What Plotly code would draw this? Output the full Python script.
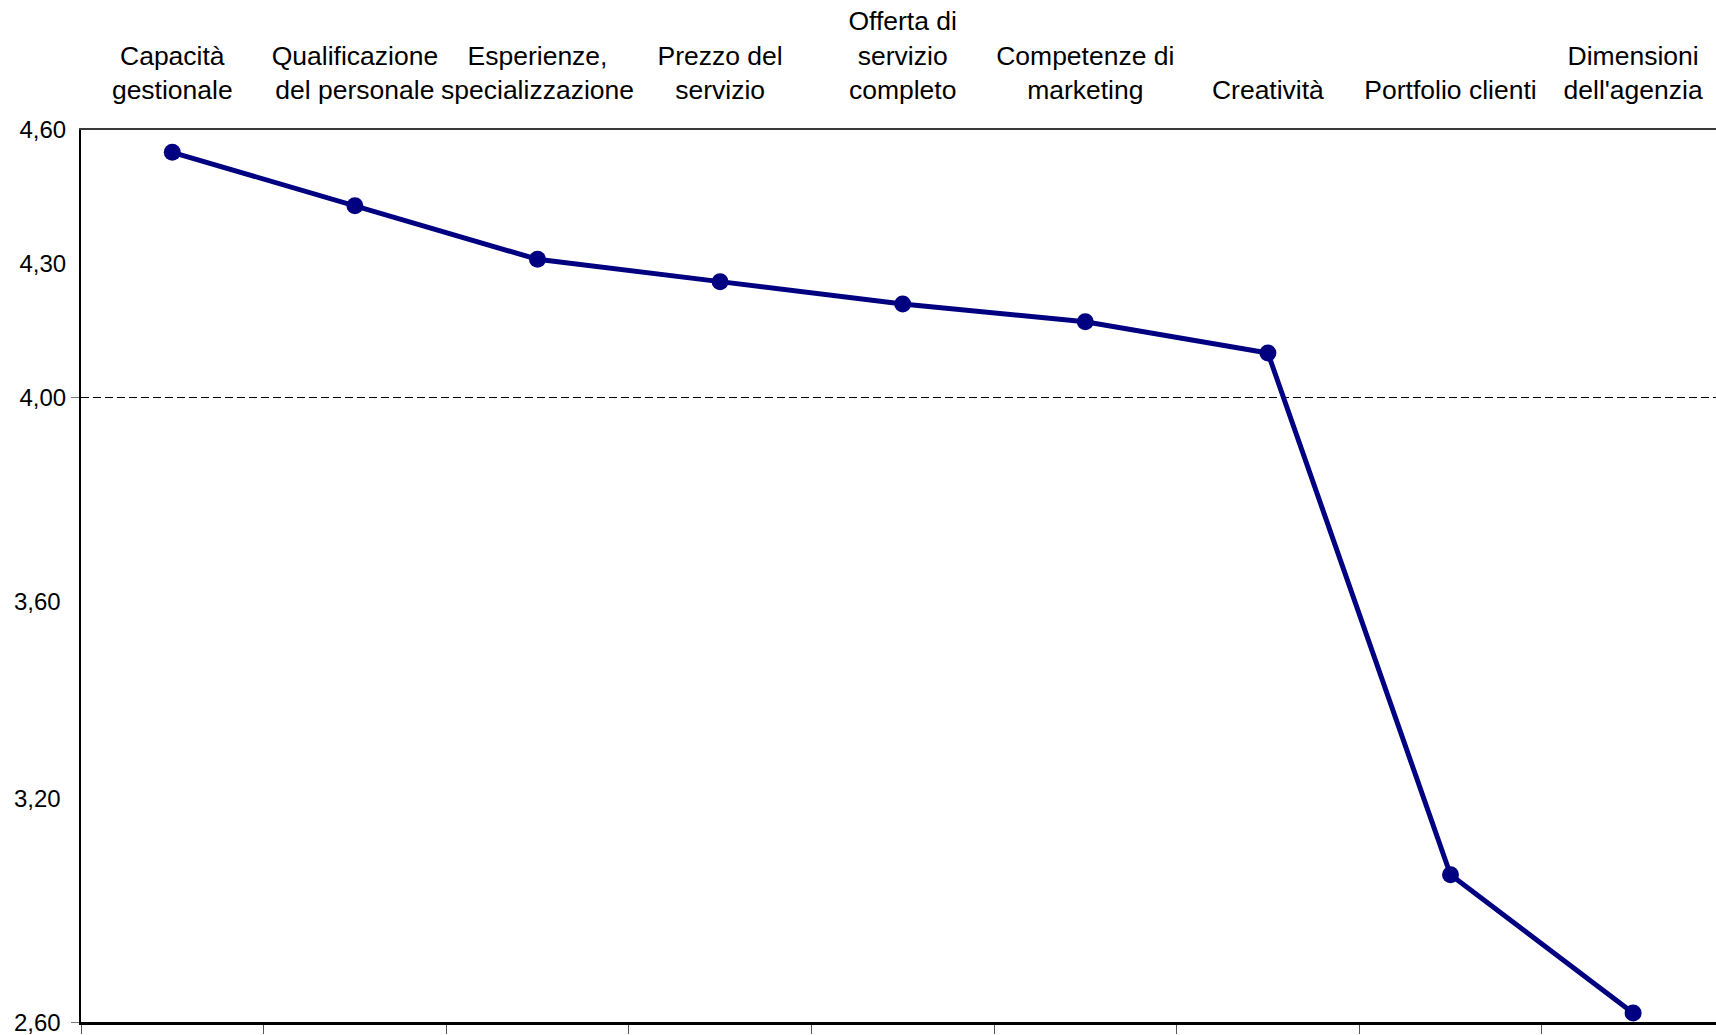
import plotly.graph_objects as go

# Average scores per factor
categories = [
    "Capacità<br>gestionale",
    "Qualificazione<br>del personale",
    "Esperienze,<br>specializzazione",
    "Prezzo del<br>servizio",
    "Offerta di<br>servizio<br>completo",
    "Competenze di<br>marketing",
    "Creatività",
    "Portfolio clienti",
    "Dimensioni<br>dell'agenzia",
]
scores = [4.55, 4.43, 4.31, 4.26, 4.21, 4.17, 4.10, 2.93, 2.62]

# Y axis labels
y_min, y_max = 2.60, 4.60
y_tick_vals = [4.60, 4.30, 4.00]
y_tick_text = ["4,60", "4,30", "4,00"]
y_marked_ticks = [4.00, 2.60]
# Free-standing scale labels on the left side (paper position, label)
side_labels = [(0.4709, "3,60"), (0.2511, "3,20")]

NAVY = "#000080"
FONT = "Liberation Sans, Arial, sans-serif"

x_range = [-0.5, len(categories) - 0.546]
boundaries = [i - 0.5 for i in range(len(categories) + 1)]

fig = go.Figure()
fig.add_trace(
    go.Scatter(
        x=categories,
        y=scores,
        mode="lines+markers",
        line=dict(color=NAVY, width=5),
        marker=dict(color=NAVY, size=17),
        xaxis="x",
        yaxis="y",
        showlegend=False,
        cliponaxis=False,
    )
)
# Empty companion trace so the bottom (boundary-tick) axis gets drawn
fig.add_trace(
    go.Scatter(
        x=boundaries,
        y=[None] * len(boundaries),
        mode="markers",
        marker=dict(opacity=0),
        xaxis="x2",
        yaxis="y",
        showlegend=False,
        hoverinfo="skip",
    )
)

fig.update_layout(
    width=1716,
    height=1035,
    margin=dict(l=81, r=0, t=130, b=13),
    paper_bgcolor="white",
    plot_bgcolor="white",
    font=dict(family=FONT, color="black"),
    xaxis=dict(
        type="category",
        side="top",
        range=x_range,
        showline=True,
        linecolor="#3a3a3a",
        linewidth=2,
        ticks="",
        showgrid=False,
        zeroline=False,
        tickfont=dict(size=26.5, family=FONT),
        ticklabelstandoff=18,
    ),
    xaxis2=dict(
        overlaying="x",
        side="bottom",
        anchor="y",
        type="linear",
        range=x_range,
        showline=True,
        linecolor="black",
        linewidth=2.5,
        ticks="outside",
        tickvals=boundaries,
        ticklen=9,
        tickwidth=1,
        tickcolor="#555555",
        showticklabels=False,
        showgrid=False,
        zeroline=False,
    ),
    yaxis=dict(
        range=[y_min, y_max],
        showline=True,
        linecolor="black",
        linewidth=2,
        tickvals=y_tick_vals,
        ticktext=y_tick_text,
        ticks="",
        showgrid=False,
        zeroline=False,
        tickfont=dict(size=24, family=FONT),
        ticklabelstandoff=8,
        minor=dict(
            tickvals=y_marked_ticks,
            ticks="outside",
            ticklen=8,
            tickwidth=1,
            tickcolor="#777777",
            showgrid=True,
            gridcolor="black",
            gridwidth=1.3,
            griddash="8px,4px",
        ),
    ),
)

# Bottom-of-scale label (sits on the baseline)
fig.add_annotation(
    xref="paper",
    yref="y",
    x=0,
    y=y_min,
    xanchor="right",
    yanchor="middle",
    xshift=-18,
    text="2,60",
    showarrow=False,
    font=dict(size=24, family=FONT, color="black"),
)

for ypos, label in side_labels:
    fig.add_annotation(
        xref="paper",
        yref="paper",
        x=0,
        y=ypos,
        xanchor="right",
        yanchor="middle",
        xshift=-18,
        text=label,
        showarrow=False,
        font=dict(size=24, family=FONT, color="black"),
    )

fig.write_html("out.html")
